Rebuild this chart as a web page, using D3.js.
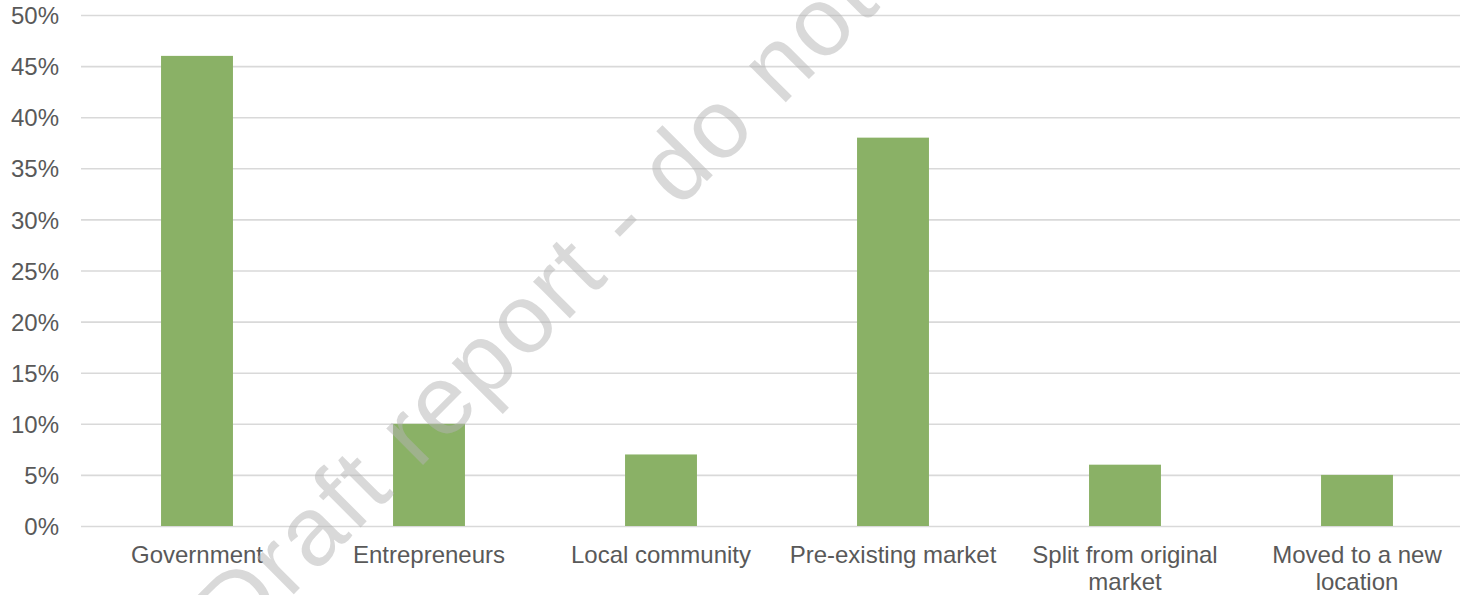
<!DOCTYPE html>
<html>
<head>
<meta charset="utf-8">
<script src="https://cdn.jsdelivr.net/npm/d3@7"></script>
<style>
  html, body { margin: 0; padding: 0; background: #fff; }
  svg { display: block; font-family: "Liberation Sans", Arial, sans-serif; }
</style>
</head>
<body>
<svg id="chart" width="1460" height="595"></svg>
<script>
// Origin of new markets (share of respondents)
const categories = [
  "Government",
  "Entrepreneurs",
  "Local community",
  "Pre-existing market",
  "Split from original market",
  "Moved to a new location"
];
const shares = [0.46, 0.10, 0.07, 0.38, 0.06, 0.05];
const yTicks = [0, 0.05, 0.10, 0.15, 0.20, 0.25, 0.30, 0.35, 0.40, 0.45, 0.50];
const watermarkText = "Draft report - do not";

const svg = d3.select("#chart");
const W = 1460;
const plotLeft = 81, plotRight = 1473, plotTop = 15, plotBottom = 526;

const x = d3.scaleBand()
  .domain(categories)
  .range([plotLeft, plotRight])
  .paddingInner(0.69)
  .paddingOuter(0.345);

const y = d3.scaleLinear()
  .domain([0, 0.5])
  .range([plotBottom, plotTop]);

// horizontal gridlines
const grid = svg.append("g")
  .attr("transform", `translate(${plotLeft},0)`)
  .call(d3.axisLeft(y).tickValues(yTicks).tickSize(-(W - plotLeft)).tickFormat(""));
grid.select(".domain").remove();
grid.selectAll(".tick line").attr("stroke", "#d9d9d9").attr("stroke-width", 1.6);

// bars
svg.append("g")
  .selectAll("rect")
  .data(categories)
  .join("rect")
  .attr("x", d => x(d))
  .attr("width", x.bandwidth())
  .attr("y", (d, i) => y(shares[i]))
  .attr("height", (d, i) => y(0) - y(shares[i]))
  .attr("fill", "#8ab166");

// y axis labels
const yAxis = svg.append("g")
  .attr("transform", "translate(59,0)")
  .call(d3.axisLeft(y).tickValues(yTicks).tickSize(0).tickPadding(0).tickFormat(d3.format(".0%")));
yAxis.select(".domain").remove();
yAxis.selectAll("text")
  .attr("font-family", "'Liberation Sans', Arial, sans-serif")
  .attr("font-size", 24)
  .attr("fill", "#595959")
  .attr("dy", "0.36em");

// category axis
const xAxis = svg.append("g")
  .attr("transform", `translate(0,${plotBottom})`)
  .call(d3.axisBottom(x).tickSize(0).tickPadding(0));
xAxis.select(".domain").remove();
xAxis.selectAll("text")
  .attr("font-family", "'Liberation Sans', Arial, sans-serif")
  .attr("font-size", 24)
  .attr("fill", "#595959")
  .attr("y", 0)
  .attr("dy", 0)
  .each(function (d) {
    const t = d3.select(this);
    const words = d.split(" ");
    const maxW = x.step() - 8;
    t.text(null);
    let line = [];
    let lineNo = 0;
    let tspan = t.append("tspan").attr("x", 0).attr("y", 37);
    for (const w of words) {
      line.push(w);
      tspan.text(line.join(" "));
      if (tspan.node().getComputedTextLength() > maxW && line.length > 1) {
        line.pop();
        tspan.text(line.join(" "));
        line = [w];
        lineNo++;
        tspan = t.append("tspan").attr("x", 0).attr("y", 37 + lineNo * 27).text(w);
      }
    }
  });

// diagonal draft watermark laid over the chart
svg.append("text")
  .attr("transform", "translate(237,651) rotate(-45)")
  .attr("font-family", "'Liberation Sans', Arial, sans-serif")
  .attr("font-size", 98)
  .attr("letter-spacing", 2.8)
  .attr("fill", "#b4b4b4")
  .attr("fill-opacity", 0.5)
  .text(watermarkText);
</script>
</body>
</html>
